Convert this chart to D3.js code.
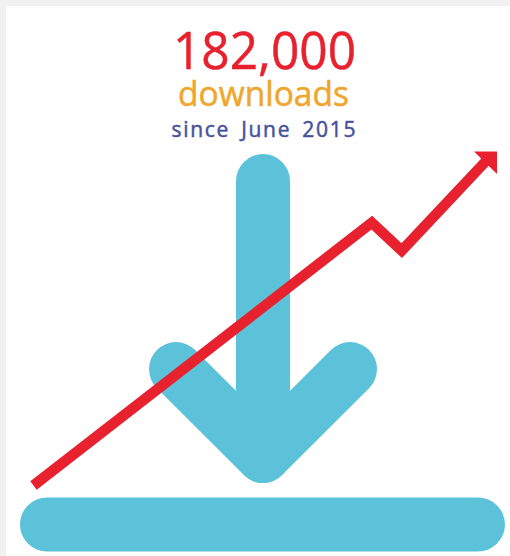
<!DOCTYPE html>
<head>
<meta charset="utf-8">
<style>
html, body { margin: 0; padding: 0; background: #f1f1f1; }
svg { display: block; }
text { font-family: "Open Sans", sans-serif; text-anchor: middle; }
</style>
<title>182,000 downloads since June 2015</title>
</head>
<body>
<svg width="510" height="556"></svg>
<script src="https://d3js.org/d3.v7.min.js"></script>
<script>
// headline text
var headline = ["182,000", "downloads", "since June 2015"]
var headlineColors = ["#e8212f", "#f0a62c", "#47529c"]

// trend line: share of the period (%) against downloads (thousands)
var trendPeriod = [0, 74.6, 81.2, 100]
var trendDownloads = [0, 147, 131.3, 182]

// download icon, in icon units (arrow half width = 1, shaft top = 0, arrow tip = 1)
var shaftX = [0, 0], shaftY = [0, 1]
var headX = [-1, 0, 1], headY = [0.684, 1, 0.684]
var barX = [-2.483, 2.471], barY = [1.249, 1.249]

var svg = d3.select("svg")

svg.append("rect")
    .attr("x", 6).attr("y", 6)
    .attr("width", 504).attr("height", 550)
    .attr("fill", "#fff")

var iconX = d3.scaleLinear().domain([-1, 1]).range([176, 350]),
    iconY = d3.scaleLinear().domain([0, 1]).range([181, 456])

var iconLine = d3.line().x(d => iconX(d[0])).y(d => iconY(d[1]))

var icon = svg.append("g")
    .attr("fill", "none")
    .attr("stroke", "#5bc2d9")
    .attr("stroke-width", 54)
    .attr("stroke-linecap", "round")
    .attr("stroke-linejoin", "round")

icon.selectAll("path")
  .data([d3.zip(shaftX, shaftY), d3.zip(headX, headY), d3.zip(barX, barY)])
  .enter().append("path")
    .attr("d", iconLine)

// trend
var x = d3.scaleLinear().domain([0, 100]).range([33.5, 487]),
    y = d3.scaleLinear().domain([0, 182]).range([485.5, 160])

var trend = d3.zip(trendPeriod, trendDownloads)

svg.append("path")
    .datum(trend)
    .attr("fill", "none")
    .attr("stroke", "#e8212f")
    .attr("stroke-width", 10.5)
    .attr("stroke-linejoin", "miter")
    .attr("d", d3.line().x(d => x(d[0])).y(d => y(d[1])))

// arrow head sits on the last point of the trend
var end = trend[trend.length - 1]
svg.append("path")
    .attr("fill", "#e8212f")
    .attr("transform", "translate(" + x(end[0]) + "," + y(end[1]) + ")")
    .attr("d", "M-13,-8.5L10,-8.5L10,14Z")

// text
var textX = [264.5, 263.5, 263.5],
    textBase = [69, 106, 137],
    textSize = [52, 34, 21],
    textLen = [183, 171, 184]

svg.selectAll("text")
  .data(headline)
  .enter().append("text")
    .attr("x", (d, i) => textX[i])
    .attr("y", (d, i) => textBase[i])
    .attr("font-size", (d, i) => textSize[i])
    .attr("fill", (d, i) => headlineColors[i])
    .attr("stroke", (d, i) => headlineColors[i])
    .attr("stroke-width", 0.5)
    .attr("textLength", (d, i) => textLen[i])
    .attr("lengthAdjust", (d, i) => i == 2 ? "spacing" : "spacingAndGlyphs")
    .attr("word-spacing", (d, i) => i == 2 ? 4 : 0)
    .text(d => d)
</script>
</body>
